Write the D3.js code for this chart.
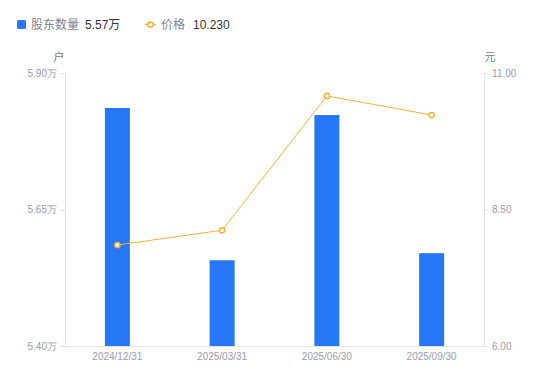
<!DOCTYPE html>
<html>
<head>
<meta charset="utf-8">
<script src="https://cdn.jsdelivr.net/npm/d3@7"></script>
<style>
  body { margin: 0; background: #fff; }
  svg { font-family: "Liberation Sans", "Noto Sans CJK SC", sans-serif; }
</style>
</head>
<body>
<svg class="chart"></svg>
<script>
var categories = ["2024/12/31", "2025/03/31", "2025/06/30", "2025/09/30"];
var holders = [5.836, 5.557, 5.823, 5.570];   // 万户
var price = [7.85, 8.12, 10.58, 10.23];        // 元
var leftTicks = [5.40, 5.65, 5.90];
var rightTicks = [6.00, 8.50, 11.00];

var width = 550, height = 381;
var plotLeft = 65, plotRight = 484, plotTop = 73, plotBottom = 346;
var barColor = "#2677f5", lineColor = "#f7b035";
var labelColor = "#9a9caa", axisColor = "#e3e4e8";

var svg = d3.select(".chart").attr("width", width).attr("height", height);

var x = d3.scaleBand().domain(categories).range([plotLeft, plotRight]);
var yl = d3.scaleLinear().domain([5.40, 5.90]).range([plotBottom, plotTop]);
var yr = d3.scaleLinear().domain([6, 11]).range([plotBottom, plotTop]);

// axes
var gl = svg.append("g")
    .attr("transform", "translate(" + plotLeft + ",0)")
    .call(d3.axisLeft(yl).tickValues(leftTicks).tickSize(5).tickPadding(3)
      .tickFormat(function(d) { return d.toFixed(2) + "万"; }));
var gr = svg.append("g")
    .attr("transform", "translate(" + plotRight + ",0)")
    .call(d3.axisRight(yr).tickValues(rightTicks).tickSize(5).tickPadding(3)
      .tickFormat(function(d) { return d.toFixed(2); }));
var gx = svg.append("g")
    .attr("transform", "translate(0," + plotBottom + ")")
    .call(d3.axisBottom(x).tickSize(0).tickPadding(7));

[gl, gr, gx].forEach(function(g) {
  g.select(".domain").attr("stroke", axisColor);
  g.selectAll(".tick line").attr("stroke", axisColor);
  g.selectAll("text").attr("fill", labelColor).style("font-size", "10px");
});
gx.select(".domain").attr("d", "M" + plotLeft + ",0.5H" + plotRight);

// units
svg.append("text").attr("x", 59).attr("y", 61).attr("text-anchor", "middle")
  .attr("fill", "#777a88").style("font-size", "11px").text("户");
svg.append("text").attr("x", 490).attr("y", 61).attr("text-anchor", "middle")
  .attr("fill", "#777a88").style("font-size", "11px").text("元");

// bars
svg.selectAll("rect.bar").data(holders).enter().append("rect")
  .attr("class", "bar")
  .attr("x", function(d, i) { return x(categories[i]) + x.bandwidth() / 2 - 12.5; })
  .attr("width", 25)
  .attr("y", function(d) { return yl(d); })
  .attr("height", function(d) { return plotBottom - yl(d); })
  .attr("fill", barColor);

// price line
var line = d3.line()
  .x(function(d, i) { return x(categories[i]) + x.bandwidth() / 2; })
  .y(function(d) { return yr(d); });
svg.append("path").datum(price).attr("d", line)
  .attr("fill", "none").attr("stroke", lineColor).attr("stroke-width", 1);
svg.selectAll("circle.pt").data(price).enter().append("circle")
  .attr("class", "pt")
  .attr("cx", function(d, i) { return x(categories[i]) + x.bandwidth() / 2; })
  .attr("cy", function(d) { return yr(d); })
  .attr("r", 2.6)
  .attr("fill", "#fff").attr("stroke", lineColor).attr("stroke-width", 1.5);

// legend
var lg = svg.append("g").style("font-size", "12px");
lg.append("rect").attr("x", 17).attr("y", 20).attr("width", 9).attr("height", 9)
  .attr("rx", 1.5).attr("fill", barColor);
lg.append("text").attr("x", 31).attr("y", 29).attr("fill", "#808391").text("股东数量");
lg.append("text").attr("x", 85).attr("y", 29).attr("fill", "#333").text(holders[3].toFixed(2) + "万");
lg.append("line").attr("x1", 145).attr("x2", 156).attr("y1", 24.5).attr("y2", 24.5)
  .attr("stroke", lineColor).attr("stroke-width", 1.5);
lg.append("circle").attr("cx", 150.5).attr("cy", 24.5).attr("r", 2.6)
  .attr("fill", "#fff").attr("stroke", lineColor).attr("stroke-width", 1.5);
lg.append("text").attr("x", 161).attr("y", 29).attr("fill", "#808391").text("价格");
lg.append("text").attr("x", 193).attr("y", 29).attr("fill", "#333").text(price[3].toFixed(3));
</script>
</body>
</html>
